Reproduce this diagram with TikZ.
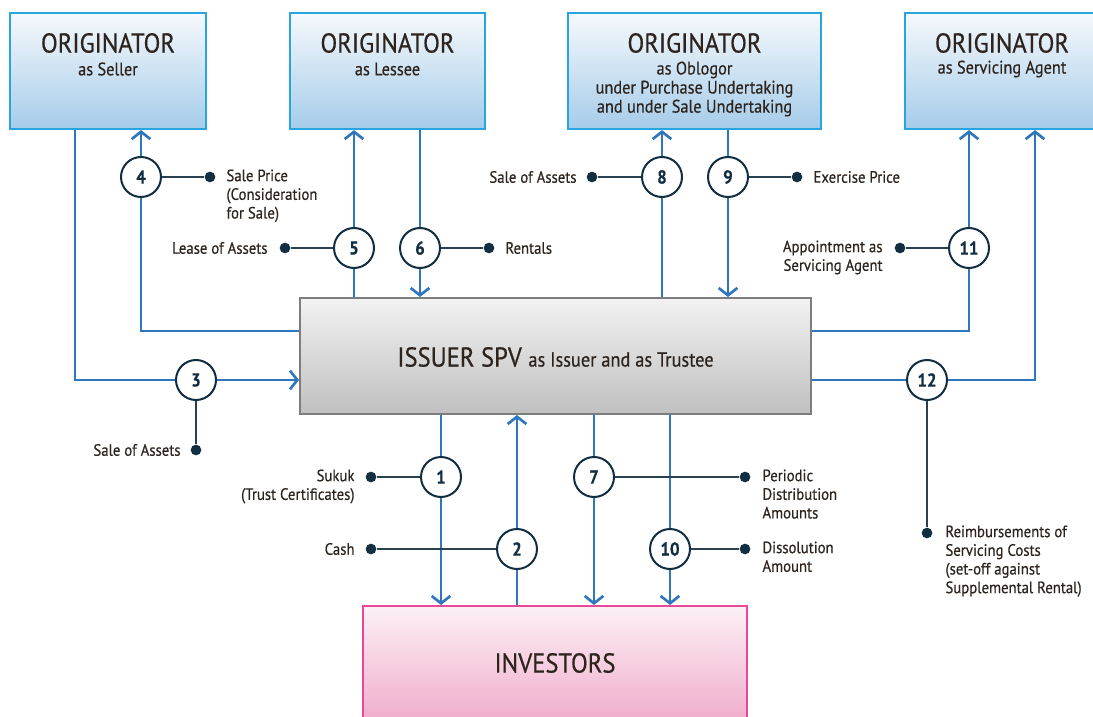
\documentclass[tikz,border=0pt]{standalone}
\usepackage{fontspec}
\setmainfont{PT Sans}[FakeStretch=0.9,FakeBold=0.5]
\usetikzlibrary{arrows.meta}

\definecolor{flowblue}{RGB}{48,118,190}
\definecolor{boxblue}{RGB}{40,165,225}
\definecolor{boxtop}{RGB}{246,249,252}
\definecolor{boxbot}{RGB}{165,204,234}
\definecolor{spvline}{RGB}{125,125,125}
\definecolor{spvtop}{RGB}{242,242,242}
\definecolor{spvbot}{RGB}{192,192,192}
\definecolor{invline}{RGB}{232,72,152}
\definecolor{invtop}{RGB}{252,240,246}
\definecolor{invbot}{RGB}{238,162,196}
\definecolor{navy}{RGB}{18,46,66}
\definecolor{leadgray}{RGB}{40,64,80}
\definecolor{txt}{RGB}{46,36,30}

\newcommand\ttlfnt{\fontsize{20.5}{22}\selectfont}
\newcommand\subfnt{\fontsize{13.6}{14.3}\selectfont}
\newcommand\spvfnt{\fontsize{15.3}{17}\selectfont}
\newcommand\labfnt{\fontsize{12.3}{14}\selectfont}
\newcommand\numfnt{\fontsize{14}{16}\selectfont\bfseries}

\tikzset{every picture/.style={line width=0.75pt}}
\tikzset{
  obox/.style={draw=boxblue, line width=1.6pt, top color=boxtop, bottom color=boxbot, minimum height=87pt, inner sep=0pt},
  sbox/.style={draw=spvline, line width=1.5pt, top color=spvtop, bottom color=spvbot, minimum height=87pt, inner sep=0pt},
  ibox/.style={draw=invline, line width=1.5pt, top color=invtop, bottom color=invbot, minimum height=100.5pt, inner sep=0pt},
  ttl/.style={font=\ttlfnt, text=txt, inner sep=0pt},
  sub/.style={font=\subfnt, text=txt, inner sep=0pt, align=center},
  lab/.style={font=\labfnt, text=txt, inner sep=0pt},
  num/.style={circle, draw=navy, line width=1.5pt, fill=white, minimum size=30pt, inner sep=0pt, font=\numfnt, text=navy},
  dot/.style={circle, fill=navy, minimum size=8pt, inner sep=0pt},
  flow/.style={draw=flowblue, line width=2pt, -{Straight Barb[length=5.5pt,width=14pt]}},
  lead/.style={draw=leadgray, line width=1.5pt}
}

\begin{document}
\begin{tikzpicture}[x=0.75pt,y=0.75pt,yscale=-1,xscale=1]
	\useasboundingbox (0,0) rectangle (1093,717);
	
	%Shape: Rectangle [originators]
	\node[obox, minimum width=147pt] (seller) at (108,71) {};
	\node[obox, minimum width=146.25pt] (lessee) at (387.5,71) {};
	\node[obox, minimum width=189.75pt] (obligor) at (694.5,71) {};
	\node[obox, minimum width=146.25pt] (agent) at (1002.5,71) {};
	%Shape: Rectangle [issuer]
	\node[sbox, minimum width=383.25pt] (spv) at (555.5,356) {};
	%Shape: Rectangle [investors]
	\node[ibox, minimum width=288pt] (inv) at (555,673) {};
	
	% Text Node
	\node[ttl] (sellerT) at (108,43) {ORIGINATOR};
	\node[sub] (sellerS) at (108,69) {as Seller};
	\node[ttl] (lesseeT) at (387.5,43) {ORIGINATOR};
	\node[sub] (lesseeS) at (387.5,69) {as Lessee};
	\node[ttl] (obligorT) at (694.5,43) {ORIGINATOR};
	\node[sub] (obligorS) at (694.5,89) {as Oblogor\\under Purchase Undertaking\\and under Sale Undertaking};
	\node[ttl] (agentT) at (1002,43) {ORIGINATOR};
	\node[sub] (agentS) at (1002,69) {as Servicing Agent};
	\node[ttl] (spvT) at (555.5,357) {ISSUER SPV {\spvfnt as Issuer and as Trustee}};
	\node[ttl] (invT) at (555,663) {INVESTORS};
	
	%Circles [steps]
	\node[num] (n1) at (441,477) {1};
	\node[num] (n2) at (517,549) {2};
	\node[num] (n3) at (196,380) {3};
	\node[num] (n4) at (141,177) {4};
	\node[num] (n5) at (354,248) {5};
	\node[num] (n6) at (420,248) {6};
	\node[num] (n7) at (594,477) {7};
	\node[num] (n8) at (662,177) {8};
	\node[num] (n9) at (728,177) {9};
	\node[num] (n10) at (670,549) {10};
	\node[num] (n11) at (969,248) {11};
	\node[num] (n12) at (927,380) {12};
	
	%Dots
	\node[dot] (d1) at (371,477) {};
	\node[dot] (d2) at (371,549) {};
	\node[dot] (d3) at (196,450) {};
	\node[dot] (d4) at (210,177) {};
	\node[dot] (d5) at (285,248) {};
	\node[dot] (d6) at (489,248) {};
	\node[dot] (d7) at (745,477) {};
	\node[dot] (d8) at (592,177) {};
	\node[dot] (d9) at (797,177) {};
	\node[dot] (d10) at (745,549) {};
	\node[dot] (d11) at (900,248) {};
	\node[dot] (d12) at (927,533) {};
	
	%Corners
	\coordinate (c3) at (75,380);
	\coordinate (c4) at (141,331);
	\coordinate (c11) at (969,331);
	\coordinate (c12) at (1035,380);
	
	%Straight Lines [flows]
	\draw[flow] (spv.south -| n1) -- (n1) -- (inv.north -| n1);
	\draw[flow] (inv.north -| n2) -- (n2) -- (spv.south -| n2);
	\draw[flow] (seller.south -| c3) -- (c3) -- (n3) -- (spv.west |- n3);
	\draw[flow] (spv.west |- c4) -- (c4) -- (n4) -- (seller.south -| n4);
	\draw[flow] (spv.north -| n5) -- (n5) -- (lessee.south -| n5);
	\draw[flow] (lessee.south -| n6) -- (n6) -- (spv.north -| n6);
	\draw[flow] (spv.south -| n7) -- (n7) -- (inv.north -| n7);
	\draw[flow] (spv.north -| n8) -- (n8) -- (obligor.south -| n8);
	\draw[flow] (obligor.south -| n9) -- (n9) -- (spv.north -| n9);
	\draw[flow] (spv.south -| n10) -- (n10) -- (inv.north -| n10);
	\draw[flow] (spv.east |- c11) -- (c11) -- (n11) -- (agent.south -| n11);
	\draw[flow] (spv.east |- n12) -- (n12) -- (c12) -- (agent.south -| c12);
	
	%Straight Lines [leads]
	\foreach \k in {1,...,12} {
		\draw[lead] (n\k) -- (d\k);
	}
	
	% Text Node
	\node[lab, anchor=north west, align=left] (l4) at (226,169) {Sale Price\\(Consideration\\for Sale)};
	\node[lab, anchor=east] (l5) at (268,248) {Lease of Assets};
	\node[lab, anchor=west] (l6) at (505,248) {Rentals};
	\node[lab, anchor=east] (l8) at (577,177) {Sale of Assets};
	\node[lab, anchor=west] (l9) at (813,177) {Exercise Price};
	\node[lab, anchor=north east, align=right] (l11) at (883,240) {Appointment as\\Servicing Agent};
	\node[lab, anchor=east] (l3) at (181,450) {Sale of Assets};
	\node[lab, anchor=north east, align=right] (l1) at (355,469) {Sukuk\\(Trust Certificates)};
	\node[lab, anchor=east] (l2) at (355,549) {Cash};
	\node[lab, anchor=north west, align=left] (l7) at (762,469) {Periodic\\Distribution\\Amounts};
	\node[lab, anchor=north west, align=left] (l10) at (762,541) {Dissolution\\Amount};
	\node[lab, anchor=north west, align=left] (l12) at (945,525) {Reimbursements of\\Servicing Costs\\(set-off against\\Supplemental Rental)};
	
\end{tikzpicture}
\end{document}
